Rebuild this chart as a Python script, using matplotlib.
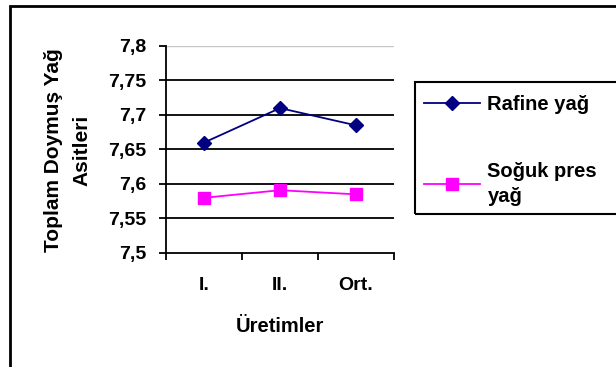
import matplotlib.pyplot as plt
from matplotlib.lines import Line2D
from matplotlib.patches import Rectangle
from matplotlib.ticker import FuncFormatter

plt.rcParams['font.family'] = ['Liberation Sans', 'DejaVu Sans']
plt.rcParams['font.weight'] = 'bold'

# Üretim dönemleri ve toplam doymuş yağ asitleri
uretimler = ['I.', 'II.', 'Ort.']
rafine = [7.66, 7.71, 7.685]
soguk_pres = [7.58, 7.591, 7.585]
y_ticks = [7.5, 7.55, 7.6, 7.65, 7.7, 7.75, 7.8]

fig = plt.figure(figsize=(6.16, 3.67), dpi=100)
ax = fig.add_axes([166 / 616, 1 - 253 / 367, 228 / 616, 207 / 367])

x = list(range(len(uretimler)))
ax.plot(x, rafine, color='#000080', lw=1.3, marker='D', ms=7.5,
        markerfacecolor='#000080', markeredgecolor='#000080')
ax.plot(x, soguk_pres, color='#ff00ff', lw=1.3, marker='s', ms=8.5,
        markerfacecolor='#ff00ff', markeredgecolor='#ff00ff')

ax.set_xlim(-0.5, len(uretimler) - 0.5)
ax.set_ylim(7.5, 7.8)
ax.set_yticks(y_ticks)
ax.yaxis.set_major_formatter(FuncFormatter(lambda v, p: f'{v:g}'.replace('.', ',')))

# yatay ızgara çizgileri
for v in y_ticks[1:-1]:
    ax.axhline(v, color='black', lw=1.3, zorder=0)
ax.axhline(7.8, color='#c8c8c8', lw=1.0, zorder=0)

ax.set_xticks(x)
ax.set_xticklabels(uretimler, fontsize=14, fontweight='bold')
ax.set_xticks([-0.5, 0.5, 1.5, 2.5], minor=True)
ax.tick_params(axis='x', which='major', length=0, pad=17)
ax.tick_params(axis='x', which='minor', length=5, width=1.3, direction='out')
ax.tick_params(axis='y', length=5, width=1.3, direction='out', labelsize=14, pad=9)
for lab in ax.get_yticklabels():
    lab.set_fontweight('bold')

for s in ['top', 'right']:
    ax.spines[s].set_visible(False)
for s in ['left', 'bottom']:
    ax.spines[s].set_linewidth(1.3)

ax.set_xlabel('Üretimler', fontsize=14.5, fontweight='bold', labelpad=17)
fig.text(68 / 616, 1 - 150 / 367, 'Toplam Doymuş Yağ\nAsitleri', rotation=90,
         ha='center', va='center', fontsize=15, fontweight='bold',
         linespacing=1.6)

# lejant
handles = [
    Line2D([], [], color='#000080', lw=1.3, marker='D', ms=7.5),
    Line2D([], [], color='#ff00ff', lw=1.3, marker='s', ms=8.5),
]
leg = fig.legend(handles, ['Rafine yağ', 'Soğuk pres\nyağ'], loc='upper left',
                 bbox_to_anchor=(416 / 616, 1 - 87 / 367), frameon=False,
                 prop={'size': 14.5, 'weight': 'bold'}, handlelength=2.8,
                 labelspacing=2.4, handletextpad=0.35, borderaxespad=0)
for t in leg.get_texts():
    t.set_linespacing(1.35)
fig.patches.append(Rectangle((415 / 616, 1 - 214 / 367), 0.5, 132 / 367,
                             transform=fig.transFigure, fill=False,
                             edgecolor='black', lw=1.5))

# dış çerçeve
fig.patches.append(Rectangle((10 / 616, -0.1), 1.0, 1.1 - 6 / 367,
                             transform=fig.transFigure, fill=False,
                             edgecolor='black', lw=2))

fig.savefig('out.png', dpi=100)
